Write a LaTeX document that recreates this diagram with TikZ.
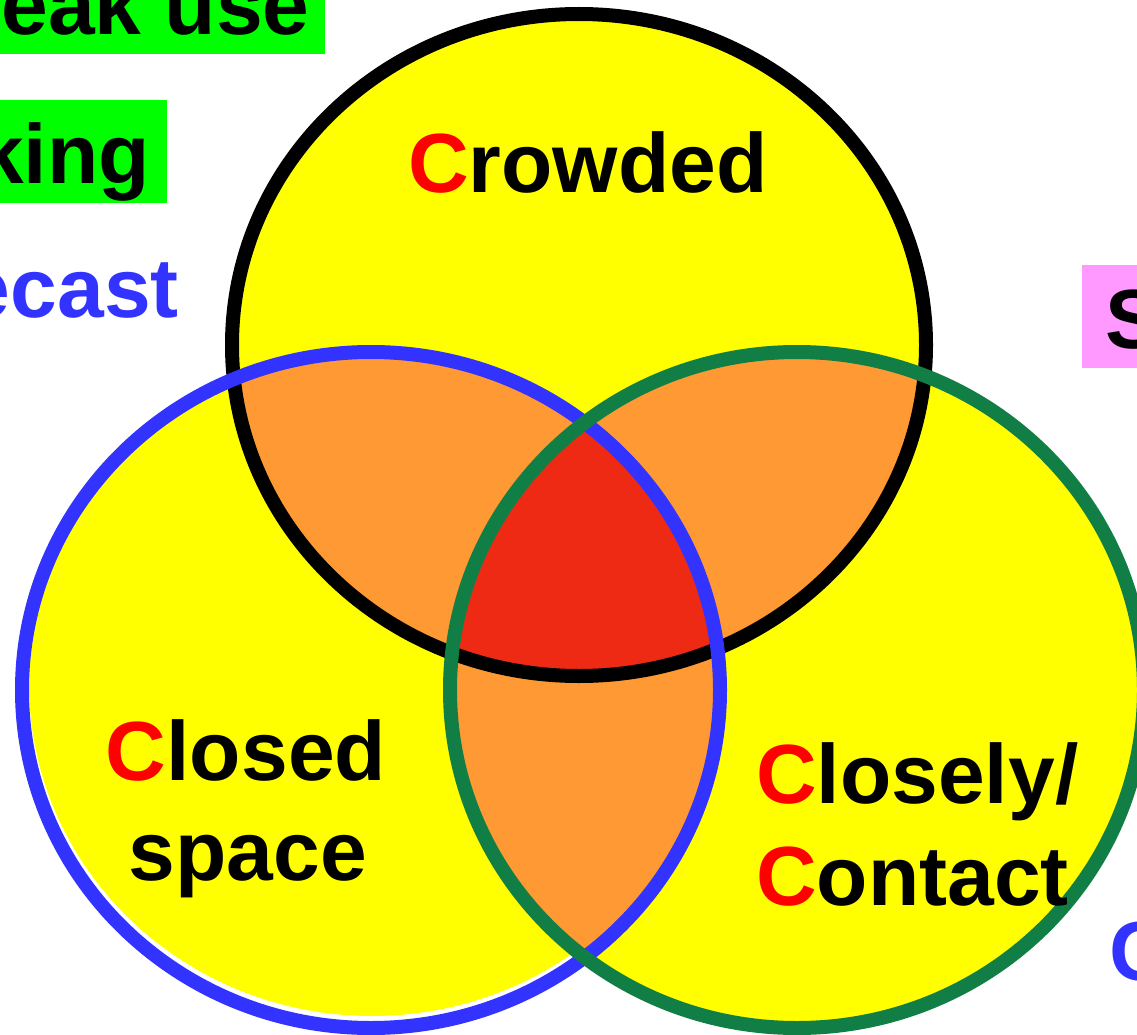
\documentclass[tikz,border=0pt]{standalone}
\usepackage{fontspec}
\setmainfont{Liberation Sans}
\definecolor{vyellow}{HTML}{FFFF00}
\definecolor{vorange}{HTML}{FF9933}
\definecolor{vred}{HTML}{EE2A15}
\definecolor{vblue}{HTML}{3333FF}
\definecolor{vgreen}{HTML}{117F45}
\definecolor{vlime}{HTML}{00FF00}
\definecolor{vpink}{HTML}{FF99FF}
\definecolor{vcred}{HTML}{FF0000}
\tikzset{
  lbl/.style={inner sep=0pt, font=\fontsize{84}{100}\selectfont\bfseries},
  ring/.style={line width=14pt},
}
\newcommand{\rc}[1]{\textcolor{vcred}{#1}}
\begin{document}
\begin{tikzpicture}[x=1pt,y=-1pt]
\clip (0,0) rectangle (1137,1035);
\fill[white] (0,0) rectangle (1137,1035);
% side boxes and partial texts
\fill[vlime] (0,0) rectangle (325,54);
\fill[vlime] (0,100) rectangle (167,203);
\fill[vpink] (1082,265) rectangle (1137,368);
\node[lbl, anchor=base east] (peak) at (310,35) {eak use};
\node[lbl, anchor=base east] (king) at (150,183) {king};
\node[lbl, anchor=base east, text=vblue] (fcast) at (179,317) {ecast};
\node[lbl, anchor=base west] (sbox) at (1105,348) {S};
\node[lbl, anchor=base west, text=vblue] (cblue) at (1109,980) {C};
% yellow fills
\fill[vyellow] (579,345) ellipse [x radius=347pt, y radius=331pt];
\fill[vyellow] (372,684) ellipse [x radius=343pt, y radius=332pt];
\fill[vyellow] (797,690) ellipse [x radius=347pt, y radius=338pt];
% pairwise intersections
\begin{scope}
  \clip (579,345) ellipse [x radius=347pt, y radius=331pt];
  \fill[vorange] (371,690) ellipse [x radius=349pt, y radius=338pt];
  \fill[vorange] (797,690) ellipse [x radius=347pt, y radius=338pt];
\end{scope}
\begin{scope}
  \clip (371,690) ellipse [x radius=349pt, y radius=338pt];
  \fill[vorange] (797,690) ellipse [x radius=347pt, y radius=338pt];
  \clip (797,690) ellipse [x radius=347pt, y radius=338pt];
  \fill[vred] (579,345) ellipse [x radius=347pt, y radius=331pt];
\end{scope}
% outlines
\draw[ring, black] (579,345) ellipse [x radius=347pt, y radius=331pt];
\draw[ring, vblue] (371,690) ellipse [x radius=349pt, y radius=338pt];
\draw[ring, vgreen] (797,690) ellipse [x radius=347pt, y radius=338pt];
% labels
\node[lbl, anchor=base] (crowded) at (588,193) {\rc{C}rowded};
\node[lbl, anchor=base] (closed) at (246,780) {\rc{C}losed};
\node[lbl, anchor=base] (space) at (248,880) {space};
\node[lbl, anchor=base west] (closely) at (756,803) {\rc{C}losely/};
\node[lbl, anchor=base west] (contact) at (756,905) {\rc{C}ontact};
\end{tikzpicture}
\end{document}
